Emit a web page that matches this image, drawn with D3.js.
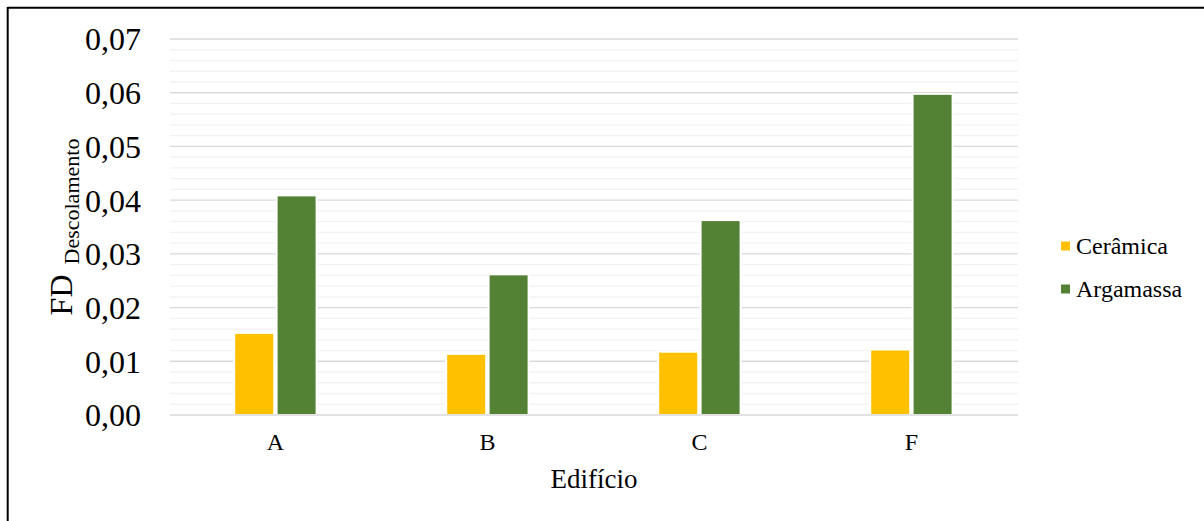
<!DOCTYPE html>
<html>
<head>
<meta charset="utf-8">
<script src="https://cdn.jsdelivr.net/npm/d3@7"></script>
<style>
  html, body { margin: 0; padding: 0; background: #fff; }
  svg { display: block; }
  text { font-family: "Liberation Serif", "Times New Roman", serif; fill: #000; }
</style>
</head>
<body>
<svg id="chart" width="1204" height="521"></svg>
<script>
const categories = ["A", "B", "C", "F"];
const seriesNames = ["Cerâmica", "Argamassa"];
const ceramica = [0.0151, 0.0112, 0.0116, 0.0120];
const argamassa = [0.0407, 0.0260, 0.0361, 0.0596];
const yTicks = [0, 0.01, 0.02, 0.03, 0.04, 0.05, 0.06, 0.07];
const colors = ["#FFC000", "#548235"];

const svg = d3.select("#chart");
svg.append("rect").attr("x", 0).attr("y", 0).attr("width", 1204).attr("height", 521).attr("fill", "#fff");

// outer border (top + left visible)
svg.append("line").attr("x1", 7.5).attr("x2", 1204).attr("y1", 7.7).attr("y2", 7.7).attr("stroke", "#000").attr("stroke-width", 2);
svg.append("line").attr("x1", 7.7).attr("x2", 7.7).attr("y1", 7).attr("y2", 521).attr("stroke", "#000").attr("stroke-width", 2);

const plotL = 170, plotR = 1018, plotT = 39, plotB = 415;
const y = d3.scaleLinear().domain([0, 0.07]).range([plotB, plotT]);
const x0 = d3.scaleBand().domain(categories).range([plotL - 0.6, plotR - 0.6]).paddingInner(0.6).paddingOuter(0.3);
const x1 = d3.scaleBand().domain(seriesNames).range([0, x0.bandwidth()]);

// minor gridlines
const minor = d3.range(0, 36).map(i => i * 0.002).filter((v, i) => i % 5 !== 0);
svg.append("g").selectAll("line").data(minor).join("line")
  .attr("x1", plotL).attr("x2", plotR)
  .attr("y1", d => y(d)).attr("y2", d => y(d))
  .attr("stroke", "#F2F2F2").attr("stroke-width", 1.33);
// major gridlines
svg.append("g").selectAll("line").data(yTicks.filter(d => d > 0)).join("line")
  .attr("x1", plotL).attr("x2", plotR)
  .attr("y1", d => y(d)).attr("y2", d => y(d))
  .attr("stroke", "#D9D9D9").attr("stroke-width", 1.33);

// bars
const rows = categories.map((c, i) => ({ cat: c, vals: [ceramica[i], argamassa[i]] }));
const groups = svg.append("g").selectAll("g").data(rows).join("g")
  .attr("transform", d => `translate(${x0(d.cat)},0)`);
groups.selectAll("rect").data(d => d.vals.map((v, j) => ({ s: seriesNames[j], v, j }))).join("rect")
  .attr("x", d => x1(d.s) + 1.2)
  .attr("width", x1.bandwidth() - 2.4)
  .attr("y", d => y(d.v) - 1)
  .attr("height", d => plotB - y(d.v) + 1)
  .attr("fill", d => colors[d.j])
  .attr("stroke", "#fff").attr("stroke-width", 2);

// x axis line
svg.append("line").attr("x1", plotL).attr("x2", plotR).attr("y1", plotB).attr("y2", plotB)
  .attr("stroke", "#D9D9D9").attr("stroke-width", 1.33);

// y axis tick labels
const yAxis = d3.axisLeft(y).tickValues(yTicks).tickSize(0).tickPadding(0)
  .tickFormat(d => d3.format(".2f")(d).replace(".", ","));
const gy = svg.append("g").attr("transform", `translate(141,0)`).call(yAxis);
gy.select(".domain").remove();
gy.selectAll("text").attr("font-size", 32).attr("font-family", "Liberation Serif, serif").attr("fill", "#000").attr("dy", "0.34em");

// x axis labels
const xAxis = d3.axisBottom(x0).tickSize(0).tickPadding(0);
const gx = svg.append("g").attr("transform", `translate(0,${plotB})`).call(xAxis);
gx.select(".domain").remove();
gx.selectAll("text").attr("font-size", 24).attr("font-family", "Liberation Serif, serif").attr("fill", "#000").attr("dy", 0).attr("y", 35);

// x title
svg.append("text").attr("x", (plotL + plotR) / 2).attr("y", 488).attr("text-anchor", "middle")
  .attr("font-size", 27).text("Edifício");

// y title
const yt = svg.append("text").attr("transform", `translate(72,${(plotT + plotB) / 2}) rotate(-90)`)
  .attr("text-anchor", "middle");
yt.append("tspan").attr("font-size", 32).text("FD");
yt.append("tspan").attr("font-size", 22).attr("dx", 10).attr("dy", 7).text("Descolamento");

// legend
const legendY = [246, 289];
const lg = svg.append("g").selectAll("g").data(seriesNames).join("g")
  .attr("transform", (d, i) => `translate(1061,${legendY[i]})`);
lg.append("rect").attr("x", 0).attr("y", -4.5).attr("width", 9).attr("height", 9).attr("fill", (d, i) => colors[i]);
lg.append("text").attr("x", 15).attr("y", 8).attr("font-size", 24).text(d => d);
</script>
</body>
</html>
